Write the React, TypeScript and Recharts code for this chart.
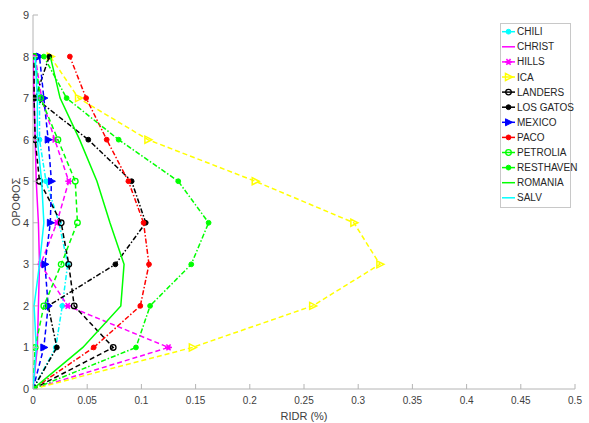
import { ScatterChart, Scatter, XAxis, YAxis } from "recharts";

// floor index (y) for every series value below
const floors = [0, 1, 2, 3, 4, 5, 6, 7, 8];
const xTicks = [0, 0.05, 0.1, 0.15, 0.2, 0.25, 0.3, 0.35, 0.4, 0.45, 0.5];
const yTicks = [0, 1, 2, 3, 4, 5, 6, 7, 8, 9];

// RIDR (%) per floor, floor 0 -> 8
const chili = [0, 0.021, 0.027, 0.032, 0.024, 0.012, 0.006, 0.006, 0.002];
const christ = [0, 0.004, 0.005, 0.006, 0.005, 0.003, 0.002, 0.001, 0.0];
const hills = [0, 0.125, 0.032, 0.007, 0.022, 0.033, 0.02, 0.008, 0.002];
const ica = [0, 0.147, 0.258, 0.32, 0.296, 0.205, 0.106, 0.042, 0.016];
const landers = [0, 0.074, 0.038, 0.033, 0.026, 0.006, 0.002, 0.001, 0.001];
const losGatos = [0, 0.022, 0.014, 0.076, 0.104, 0.091, 0.051, 0.002, 0.015];
const mexico = [0, 0.01, 0.014, 0.011, 0.016, 0.017, 0.014, 0.01, 0.006];
const paco = [0, 0.056, 0.099, 0.107, 0.102, 0.088, 0.068, 0.049, 0.034];
const petrolia = [0, 0.002, 0.01, 0.026, 0.041, 0.039, 0.023, 0.007, 0.001];
const resthaven = [0, 0.095, 0.108, 0.146, 0.162, 0.134, 0.079, 0.031, 0.01];
const romania = [0, 0.046, 0.081, 0.084, 0.071, 0.059, 0.043, 0.025, 0.016];
const salv = [0, 0.003, 0.001, 0.006, 0.01, 0.008, 0.004, 0.004, 0.002];

const seriesNames = [
  "CHILI", "CHRIST", "HILLS", "ICA", "LANDERS", "LOS GATOS",
  "MEXICO", "PACO", "PETROLIA", "RESTHAVEN", "ROMANIA", "SALV",
];
const seriesValues = [
  chili, christ, hills, ica, landers, losGatos,
  mexico, paco, petrolia, resthaven, romania, salv,
];

const DASH = "5 3";
const DASHDOT = "5 2 1.5 2";
const seriesStyles = [
  { color: "#00FFFF", dash: DASHDOT, mark: "dot" },
  { color: "#FF00FF", dash: undefined, mark: "none" },
  { color: "#FF00FF", dash: DASH, mark: "star" },
  { color: "#FFFF00", dash: DASH, mark: "triOpen" },
  { color: "#000000", dash: DASH, mark: "open" },
  { color: "#000000", dash: DASHDOT, mark: "dot" },
  { color: "#0000FF", dash: DASH, mark: "tri" },
  { color: "#FF0000", dash: DASHDOT, mark: "dot" },
  { color: "#00FF00", dash: DASH, mark: "open" },
  { color: "#00FF00", dash: DASHDOT, mark: "dot" },
  { color: "#00FF00", dash: undefined, mark: "none" },
  { color: "#00FFFF", dash: undefined, mark: "none" },
];

const AXIS = "#b4b4b4";
const TEXT = "#404040";
const FONT = "'Liberation Sans Narrow', 'Liberation Sans', Arial, sans-serif";

function Marker({ cx, cy, kind, color }: { cx: number; cy: number; kind: string; color: string }) {
  if (cx == null || cy == null) return <g />;
  switch (kind) {
    case "dot":
      return <circle cx={cx} cy={cy} r={2.4} fill={color} stroke={color} />;
    case "open":
      return <circle cx={cx} cy={cy} r={2.8} fill="none" stroke={color} strokeWidth={1.3} />;
    case "tri":
      return (
        <polygon
          points={`${cx - 3},${cy - 3.5} ${cx + 4},${cy} ${cx - 3},${cy + 3.5}`}
          fill={color}
          stroke={color}
        />
      );
    case "triOpen":
      return (
        <polygon
          points={`${cx - 3},${cy - 3.5} ${cx + 4},${cy} ${cx - 3},${cy + 3.5}`}
          fill="none"
          stroke={color}
          strokeWidth={1.5}
        />
      );
    case "star":
      return (
        <g stroke={color} strokeWidth={1.5}>
          <line x1={cx - 3.5} y1={cy} x2={cx + 3.5} y2={cy} />
          <line x1={cx - 2} y1={cy - 3} x2={cx + 2} y2={cy + 3} />
          <line x1={cx - 2} y1={cy + 3} x2={cx + 2} y2={cy - 3} />
          <circle cx={cx} cy={cy} r={1.5} fill={color} />
        </g>
      );
    default:
      return <g />;
  }
}

const BottomTick = (props: any) => {
  const { x, y, payload } = props;
  return (
    <g>
      <line x1={x} y1={y} x2={x} y2={y - 5} stroke={AXIS} />
      <text x={x} y={y + 15} textAnchor="middle" fill={TEXT} fontSize={10} fontFamily={FONT}>
        {payload.value}
      </text>
    </g>
  );
};
const TopTick = (props: any) => (
  <line x1={props.x} y1={props.y} x2={props.x} y2={props.y + 5} stroke={AXIS} />
);
const LeftTick = (props: any) => {
  const { x, y, payload } = props;
  return (
    <g>
      <line x1={x} y1={y} x2={x + 5} y2={y} stroke={AXIS} />
      <text x={x - 4} y={y + 4} textAnchor="end" fill={TEXT} fontSize={11} fontFamily={FONT}>
        {payload.value}
      </text>
    </g>
  );
};
const RightTick = (props: any) => (
  <line x1={props.x} y1={props.y} x2={props.x - 5} y2={props.y} stroke={AXIS} />
);

export default function App() {
  const data = seriesValues.map((vals) => vals.map((v, i) => ({ x: v, y: floors[i] })));

  return (
    <div style={{ position: "absolute", left: 0, top: 0, width: 589, height: 423, background: "#fff" }}>
      <ScatterChart width={589} height={423} margin={{ top: 15, right: 14, bottom: 4, left: 0 }}>
        <XAxis
          type="number"
          dataKey="x"
          domain={[0, 0.5]}
          ticks={xTicks}
          allowDataOverflow
          height={30}
          tickSize={0}
          tickMargin={0}
          tickLine={false}
          axisLine={{ stroke: AXIS }}
          tick={BottomTick}
        />
        <YAxis
          type="number"
          dataKey="y"
          domain={[0, 9]}
          ticks={yTicks}
          allowDataOverflow
          width={33}
          tickSize={0}
          tickMargin={0}
          tickLine={false}
          axisLine={{ stroke: AXIS }}
          tick={LeftTick}
        />
        <XAxis
          xAxisId="top"
          orientation="top"
          type="number"
          domain={[0, 0.5]}
          ticks={xTicks}
          allowDataOverflow
          height={0}
          tickSize={0}
          tickMargin={0}
          tickLine={false}
          axisLine={{ stroke: AXIS }}
          tick={TopTick}
        />
        <YAxis
          yAxisId="right"
          orientation="right"
          type="number"
          domain={[0, 9]}
          ticks={yTicks}
          allowDataOverflow
          width={0}
          tickSize={0}
          tickMargin={0}
          tickLine={false}
          axisLine={{ stroke: AXIS }}
          tick={RightTick}
        />
        {seriesNames.map((name, i) => {
          const st = seriesStyles[i];
          return (
            <Scatter
              key={name}
              name={name}
              data={data[i]}
              fill={st.color}
              line={{ stroke: st.color, strokeWidth: 1.5, strokeDasharray: st.dash }}
              lineType="joint"
              shape={(p: any) => <Marker cx={p.cx} cy={p.cy} kind={st.mark} color={st.color} />}
              isAnimationActive={false}
            />
          );
        })}
      </ScatterChart>
      <svg width={589} height={423} style={{ position: "absolute", left: 0, top: 0, pointerEvents: "none" }}>
        <text
          x={20}
          y={202}
          transform="rotate(-90 20 202)"
          textAnchor="middle"
          fill={TEXT}
          fontSize={11}
          fontFamily={FONT}
        >
          ΟΡΟΦΟΣ
        </text>
        <text x={304} y={420} textAnchor="middle" fill={TEXT} fontSize={11} fontFamily={FONT}>
          RIDR (%)
        </text>
        <rect x={500.5} y={23.5} width={70} height={184} fill="#fff" stroke="#c8c8c8" />
        {seriesNames.map((name, i) => {
          const st = seriesStyles[i];
          const cy = 31.7 + i * 15.1;
          return (
            <g key={name}>
              <line x1={502} y1={cy} x2={515} y2={cy} stroke={st.color} strokeWidth={1.5} />
              <Marker cx={508.5} cy={cy} kind={st.mark} color={st.color} />
              <text x={517} y={cy + 3.5} fill="#262626" fontSize={10} fontFamily={FONT}>
                {name}
              </text>
            </g>
          );
        })}
      </svg>
    </div>
  );
}
